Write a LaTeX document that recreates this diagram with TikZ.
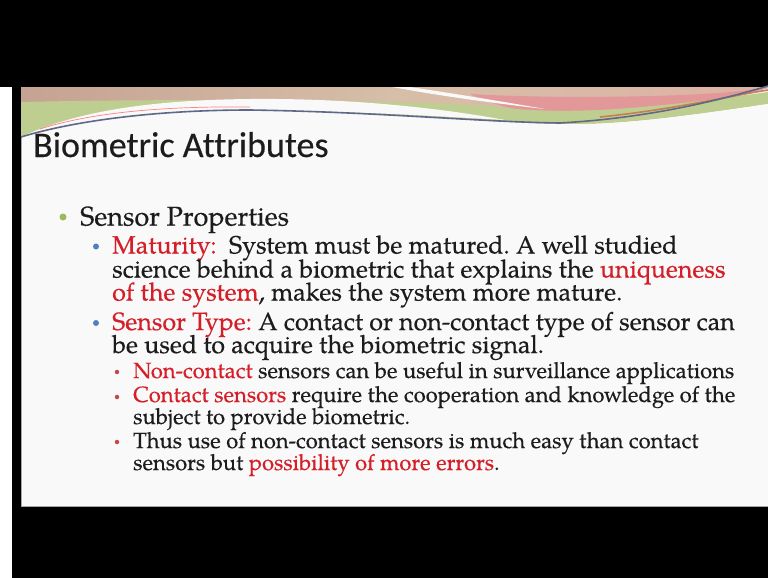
\documentclass[tikz,border=0pt]{standalone}
\usepackage{fontspec}
\setmainfont{TeX Gyre Pagella}[FakeBold=0.35]
\newfontfamily\titlefont{Carlito}[FakeBold=0.3,Ligatures=NoCommon]
\definecolor{slidebg}{RGB}{249,249,249}
\definecolor{txt}{RGB}{28,28,28}
\definecolor{hl}{RGB}{212,30,40}
\definecolor{bgreen}{RGB}{155,187,89}
\definecolor{bblue}{RGB}{79,129,189}
\definecolor{bred}{RGB}{200,70,70}
\definecolor{tanL}{RGB}{198,162,146}
\definecolor{tanM}{RGB}{214,190,168}
\definecolor{tanR}{RGB}{222,178,165}
\definecolor{bandgreen}{RGB}{190,206,145}
\definecolor{bandpink}{RGB}{226,152,152}
\definecolor{darkline}{RGB}{95,105,135}
\definecolor{orline}{RGB}{200,125,85}
\newcommand{\hlt}[1]{{\color{hl}#1}}
\frenchspacing
\begin{document}
\begin{tikzpicture}[x=1pt,y=-1pt,
  titlestyle/.style={anchor=base west,inner sep=0pt,text=txt,font=\titlefont\fontsize{36}{36}\selectfont},
  lone/.style={anchor=base west,inner sep=0pt,text=txt,font=\fontsize{27}{27}\selectfont},
  ltwo/.style={anchor=base west,inner sep=0pt,text=txt,font=\fontsize{25}{25}\selectfont},
  lthree/.style={anchor=base west,inner sep=0pt,text=txt,font=\fontsize{22}{22}\selectfont},
  dotone/.style={circle,fill=bgreen,inner sep=0pt,minimum size=7pt},
  dottwo/.style={circle,fill=bblue,inner sep=0pt,minimum size=6pt},
  dotthree/.style={circle,fill=bred,inner sep=0pt,minimum size=4.5pt}]
\useasboundingbox (0,0) rectangle (768,578);
% frame
\fill[black] (0,0) rectangle (768,578);
\fill[white] (0,87) rectangle (12,578);
\fill[slidebg] (21,87) rectangle (768,507);
\draw[gray!70,line width=0.8pt] (21.4,87) -- (21.4,506.6) -- (768,506.6);
% header band
\shade[left color=tanL, right color=tanR, middle color=tanM]
  (21,87) -- (768,87) -- (768,88) .. controls (720,100) and (650,120) .. (560,124)
  .. controls (480,122) and (380,112) .. (250,110) .. controls (150,110) and (70,122) .. (21,137) -- cycle;
\fill[bandpink] (470,94) .. controls (540,98) and (640,98) .. (720,93) -- (768,88)
  .. controls (720,102) and (650,114) .. (560,115) .. controls (520,112) and (490,104) .. (470,94) -- cycle;
\fill[bandgreen] (21,102) .. controls (150,99) and (380,99) .. (490,106)
  .. controls (560,116) and (640,110) .. (768,92) -- (768,104)
  .. controls (700,114) and (620,126) .. (560,124) .. controls (480,122) and (380,112) .. (250,110)
  .. controls (150,110) and (70,122) .. (21,137) -- cycle;
\fill[slidebg] (21,137) .. controls (70,114) and (140,100) .. (250,99) .. controls (350,98) and (440,108) .. (505,120)
  .. controls (450,117) and (360,111) .. (250,110) .. controls (150,110) and (70,122) .. (21,137) -- cycle;
\fill[slidebg] (392,87) -- (410,87) .. controls (470,96) and (510,103) .. (545,109) .. controls (500,104) and (440,96) .. (392,87) -- cycle;
\fill[slidebg] (768,104) .. controls (700,114) and (620,126) .. (560,124) -- (560,140) -- (768,140) -- cycle;
\draw[orline,line width=1.6pt] (600,117) .. controls (670,110) and (730,96) .. (768,90);
\draw[red!50!white,line width=0.7pt] (40,129) .. controls (90,113) and (160,106) .. (250,107);
\draw[darkline,line width=1.6pt] (21,137) .. controls (70,122) and (150,110) .. (250,110)
  .. controls (380,112) and (480,122) .. (560,123) .. controls (650,118) and (720,100) .. (768,86);
% title
\node[titlestyle] (title) at (33,157) {Biometric Attributes};
% level 1
\node[dotone] (b1) at (63,217) {};
\node[lone] (sp) at (80,225.5) {Sensor Properties};
% level 2
\node[dottwo] (b2) at (96,246.5) {};
\node[ltwo] (m1) at (112,253.5) {\hlt{Maturity:}\ \ System must be matured. A well studied};
\node[ltwo] (m2) at (112,277.5) {science behind a biometric that explains the \hlt{uniqueness}};
\node[ltwo] (m3) at (112,300.5) {\hlt{of the system}, makes the system more mature.};
\node[dottwo] (b3) at (96,323) {};
\node[ltwo] (s1) at (112,330) {\hlt{Sensor Type:} A contact or non-contact type of sensor can};
\node[ltwo] (s2) at (112,353) {be used to acquire the biometric signal.};
% level 3
\node[dotthree] (c1) at (117,372) {};
\node[lthree] (n1) at (133,378) {\hlt{Non-contact} sensors can be useful in surveillance applications};
\node[dotthree] (c2) at (117,397) {};
\node[lthree] (n2) at (133,402) {\hlt{Contact sensors} require the cooperation and knowledge of the};
\node[lthree] (n3) at (133,424) {subject to provide biometric.};
\node[dotthree] (c3) at (117,442) {};
\node[lthree] (n4) at (133,448) {Thus use of non-contact sensors is much easy than contact};
\node[lthree] (n5) at (133,470) {sensors but \hlt{possibility of more errors}.};
\end{tikzpicture}
\end{document}
